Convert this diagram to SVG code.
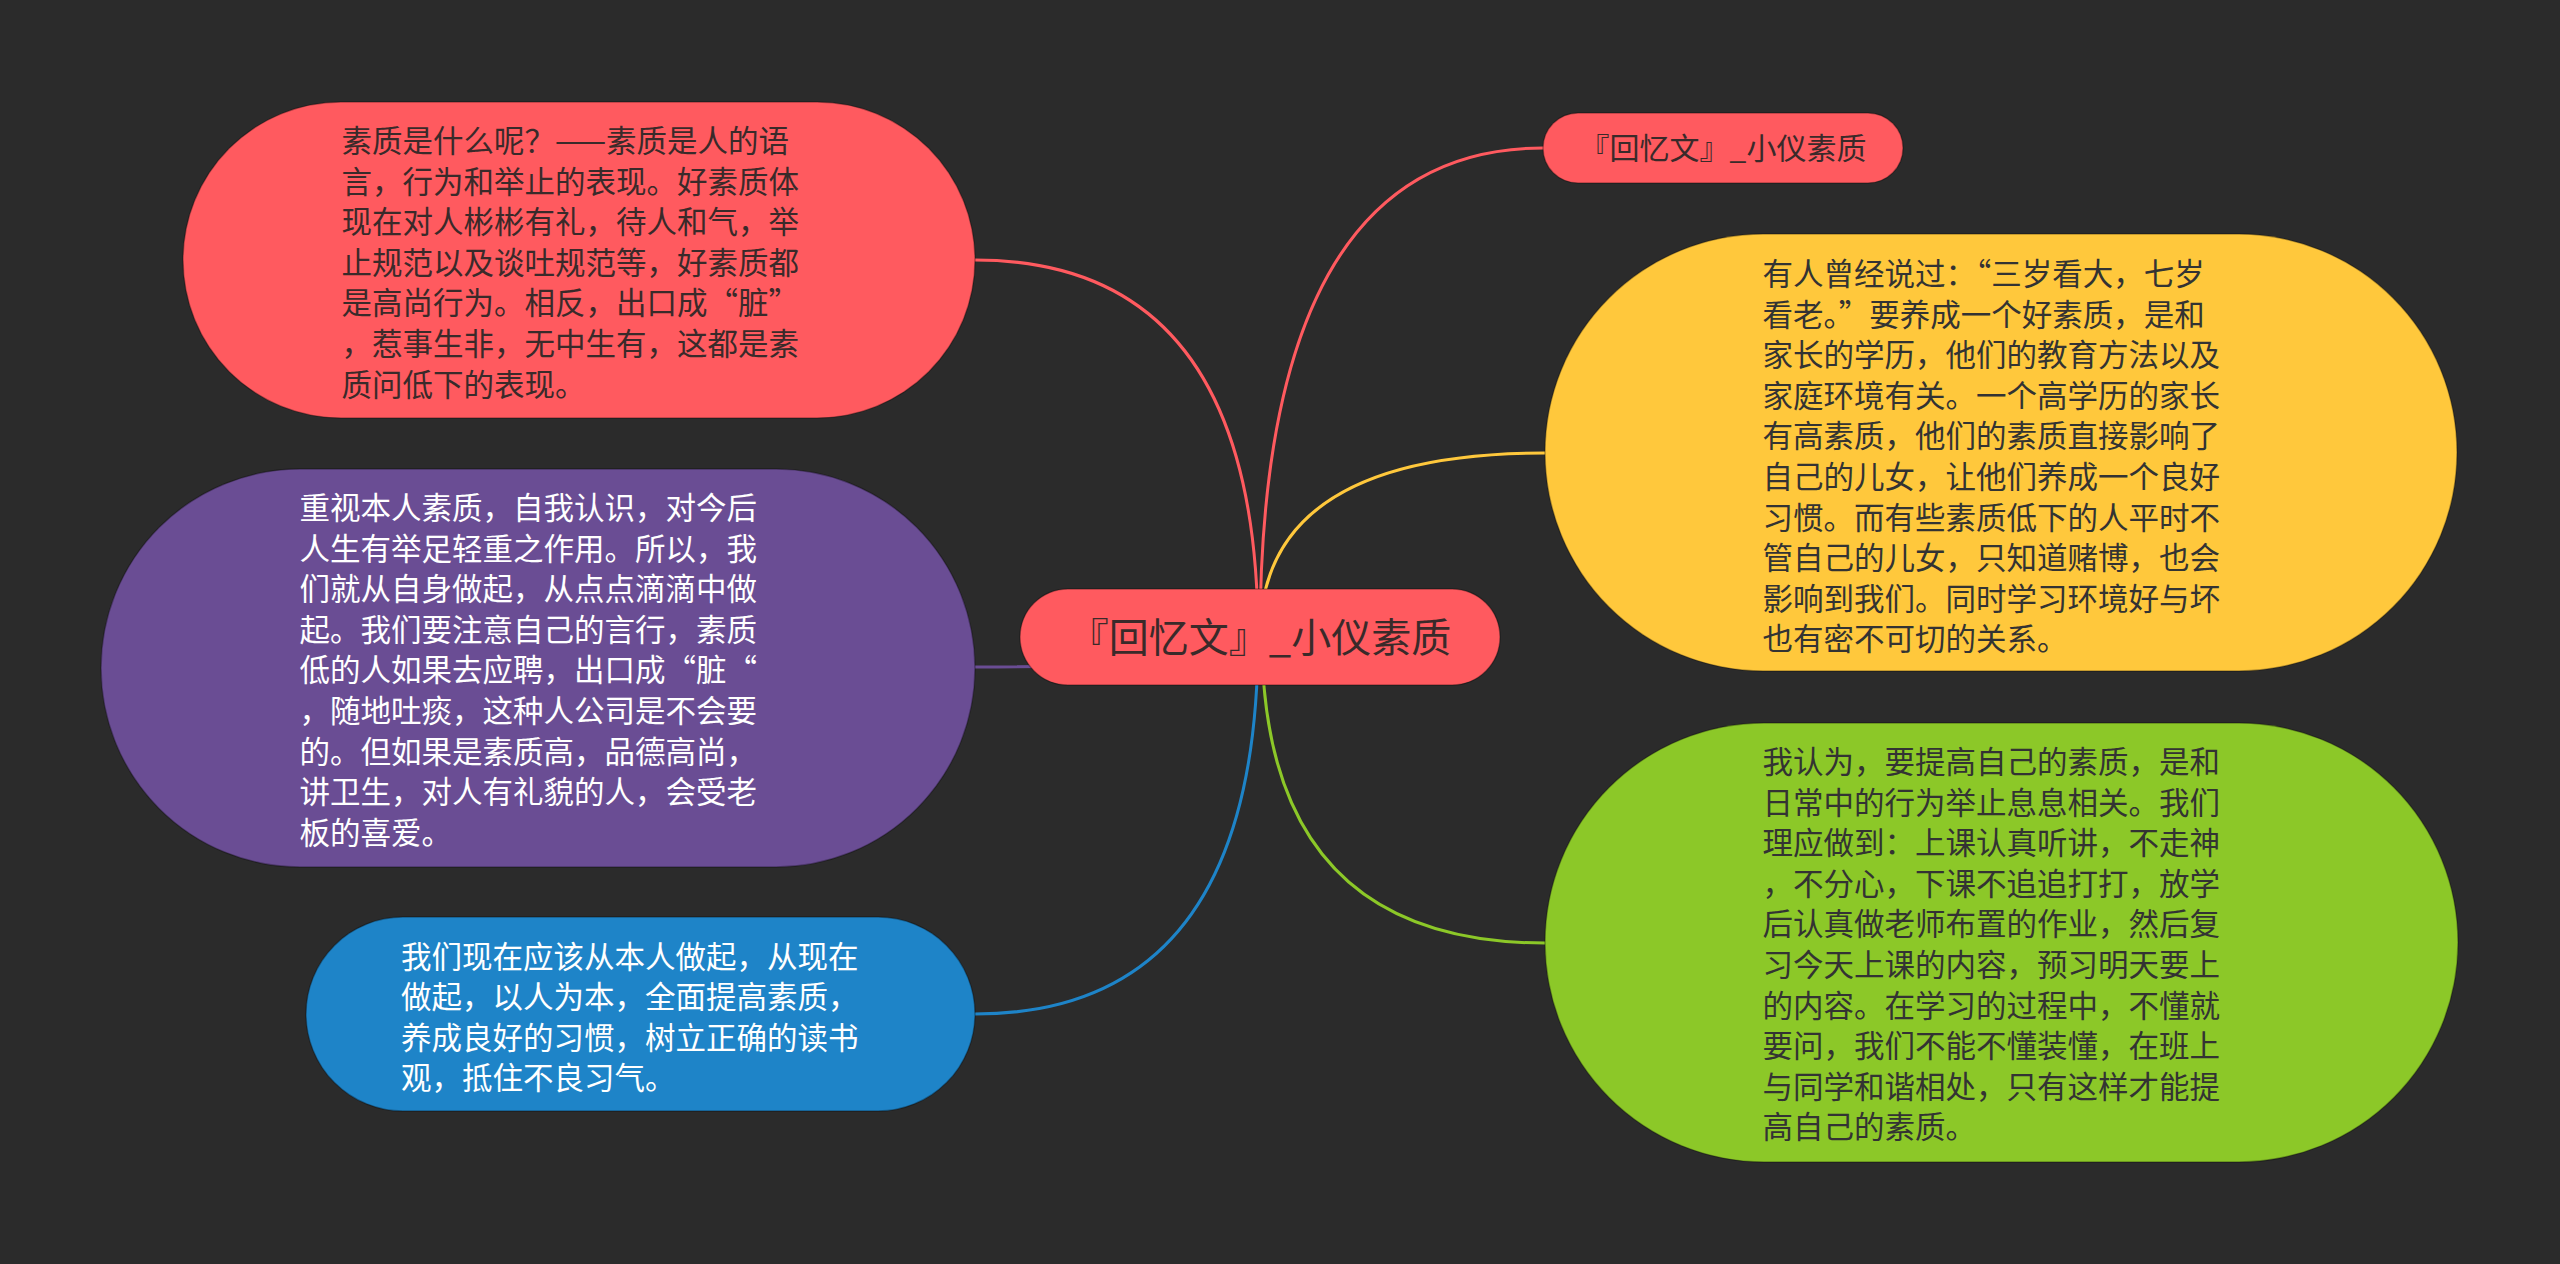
<svg xmlns="http://www.w3.org/2000/svg" width="2560" height="1264" viewBox="0 0 2560 1264">
<style>
  .bg { fill: #2b2b2b; }
  .link { fill: none; stroke-width: 3; stroke-linecap: round; }
  .node { stroke: #000; stroke-opacity: 0.3; stroke-width: 1.5; }
  .t { font-family: "Noto Sans CJK SC", "Liberation Sans", sans-serif; font-size: 30.5px; }
  .dark { fill: #333333; }
  .reddark { fill: #3a2a2a; }
  .light { fill: #ffffff; }
</style>
<rect class="bg" x="0" y="0" width="2560" height="1264"/>
<g id="connectors">
  <path class="link" stroke="#ff5a5f" d="M1260 637 Q1260 148 1543 148"/>
  <path class="link" stroke="#ffc83c" d="M1260 637 Q1260 453 1545 453"/>
  <path class="link" stroke="#8cc828" d="M1262 637 Q1262 943 1545 943"/>
  <path class="link" stroke="#ff5a5f" d="M1258 637 Q1258 260 975 260"/>
  <path class="link" stroke="#6a4d94" d="M1258 637 Q1258 667 975 667"/>
  <path class="link" stroke="#1e84c8" d="M1258 637 Q1258 1014 975 1014"/>
</g>
<g id="node-center">
  <rect class="node" x="1020" y="589" width="480" height="96" rx="48" fill="#ff5a5f"/>
  <text class="t reddark" x="1260" y="652" text-anchor="middle" style="font-size:40px">『回忆文』_小仪素质</text>
</g>
<g id="node-title">
  <rect class="node" x="1543" y="113" width="360" height="70" rx="35" fill="#ff5a5f"/>
  <text class="t reddark" x="1723" y="159" text-anchor="middle" style="font-size:30px">『回忆文』_小仪素质</text>
</g>
<g id="node-yellow">
  <rect class="node" x="1545" y="234" width="912" height="437" rx="218.5" fill="#ffc83c"/>
  <text class="t dark" x="1762.5" y="285">
    <tspan x="1762.5">有人曾经说过：“三岁看大，七岁</tspan>
    <tspan x="1762.5" dy="40.6">看老。”要养成一个好素质，是和</tspan>
    <tspan x="1762.5" dy="40.6">家长的学历，他们的教育方法以及</tspan>
    <tspan x="1762.5" dy="40.6">家庭环境有关。一个高学历的家长</tspan>
    <tspan x="1762.5" dy="40.6">有高素质，他们的素质直接影响了</tspan>
    <tspan x="1762.5" dy="40.6">自己的儿女，让他们养成一个良好</tspan>
    <tspan x="1762.5" dy="40.6">习惯。而有些素质低下的人平时不</tspan>
    <tspan x="1762.5" dy="40.6">管自己的儿女，只知道赌博，也会</tspan>
    <tspan x="1762.5" dy="40.6">影响到我们。同时学习环境好与坏</tspan>
    <tspan x="1762.5" dy="40.6">也有密不可切的关系。</tspan>
  </text>
</g>
<g id="node-green">
  <rect class="node" x="1545" y="723" width="913" height="439" rx="219.5" fill="#8cc828"/>
  <text class="t dark" x="1762.5" y="773">
    <tspan x="1762.5">我认为，要提高自己的素质，是和</tspan>
    <tspan x="1762.5" dy="40.6">日常中的行为举止息息相关。我们</tspan>
    <tspan x="1762.5" dy="40.6">理应做到：上课认真听讲，不走神</tspan>
    <tspan x="1762.5" dy="40.6">，不分心，下课不追追打打，放学</tspan>
    <tspan x="1762.5" dy="40.6">后认真做老师布置的作业，然后复</tspan>
    <tspan x="1762.5" dy="40.6">习今天上课的内容，预习明天要上</tspan>
    <tspan x="1762.5" dy="40.6">的内容。在学习的过程中，不懂就</tspan>
    <tspan x="1762.5" dy="40.6">要问，我们不能不懂装懂，在班上</tspan>
    <tspan x="1762.5" dy="40.6">与同学和谐相处，只有这样才能提</tspan>
    <tspan x="1762.5" dy="40.6">高自己的素质。</tspan>
  </text>
</g>
<g id="node-red">
  <rect class="node" x="183" y="102" width="792" height="316" rx="158" fill="#ff5a5f"/>
  <text class="t reddark" x="341.5" y="152">
    <tspan x="341.5">素质是什么呢？——素质是人的语</tspan>
    <tspan x="341.5" dy="40.6">言，行为和举止的表现。好素质体</tspan>
    <tspan x="341.5" dy="40.6">现在对人彬彬有礼，待人和气，举</tspan>
    <tspan x="341.5" dy="40.6">止规范以及谈吐规范等，好素质都</tspan>
    <tspan x="341.5" dy="40.6">是高尚行为。相反，出口成“脏”</tspan>
    <tspan x="341.5" dy="40.6">，惹事生非，无中生有，这都是素</tspan>
    <tspan x="341.5" dy="40.6">质问低下的表现。</tspan>
  </text>
</g>
<g id="node-purple">
  <rect class="node" x="101" y="469" width="874" height="398" rx="199" fill="#6a4d94"/>
  <text class="t light" x="299.5" y="519">
    <tspan x="299.5">重视本人素质，自我认识，对今后</tspan>
    <tspan x="299.5" dy="40.6">人生有举足轻重之作用。所以，我</tspan>
    <tspan x="299.5" dy="40.6">们就从自身做起，从点点滴滴中做</tspan>
    <tspan x="299.5" dy="40.6">起。我们要注意自己的言行，素质</tspan>
    <tspan x="299.5" dy="40.6">低的人如果去应聘，出口成“脏“</tspan>
    <tspan x="299.5" dy="40.6">，随地吐痰，这种人公司是不会要</tspan>
    <tspan x="299.5" dy="40.6">的。但如果是素质高，品德高尚，</tspan>
    <tspan x="299.5" dy="40.6">讲卫生，对人有礼貌的人，会受老</tspan>
    <tspan x="299.5" dy="40.6">板的喜爱。</tspan>
  </text>
</g>
<g id="node-blue">
  <rect class="node" x="306" y="917" width="669" height="194" rx="97" fill="#1e84c8"/>
  <text class="t light" x="401" y="967.5">
    <tspan x="401">我们现在应该从本人做起，从现在</tspan>
    <tspan x="401" dy="40.6">做起，以人为本，全面提高素质，</tspan>
    <tspan x="401" dy="40.6">养成良好的习惯，树立正确的读书</tspan>
    <tspan x="401" dy="40.6">观，抵住不良习气。</tspan>
  </text>
</g>
</svg>
